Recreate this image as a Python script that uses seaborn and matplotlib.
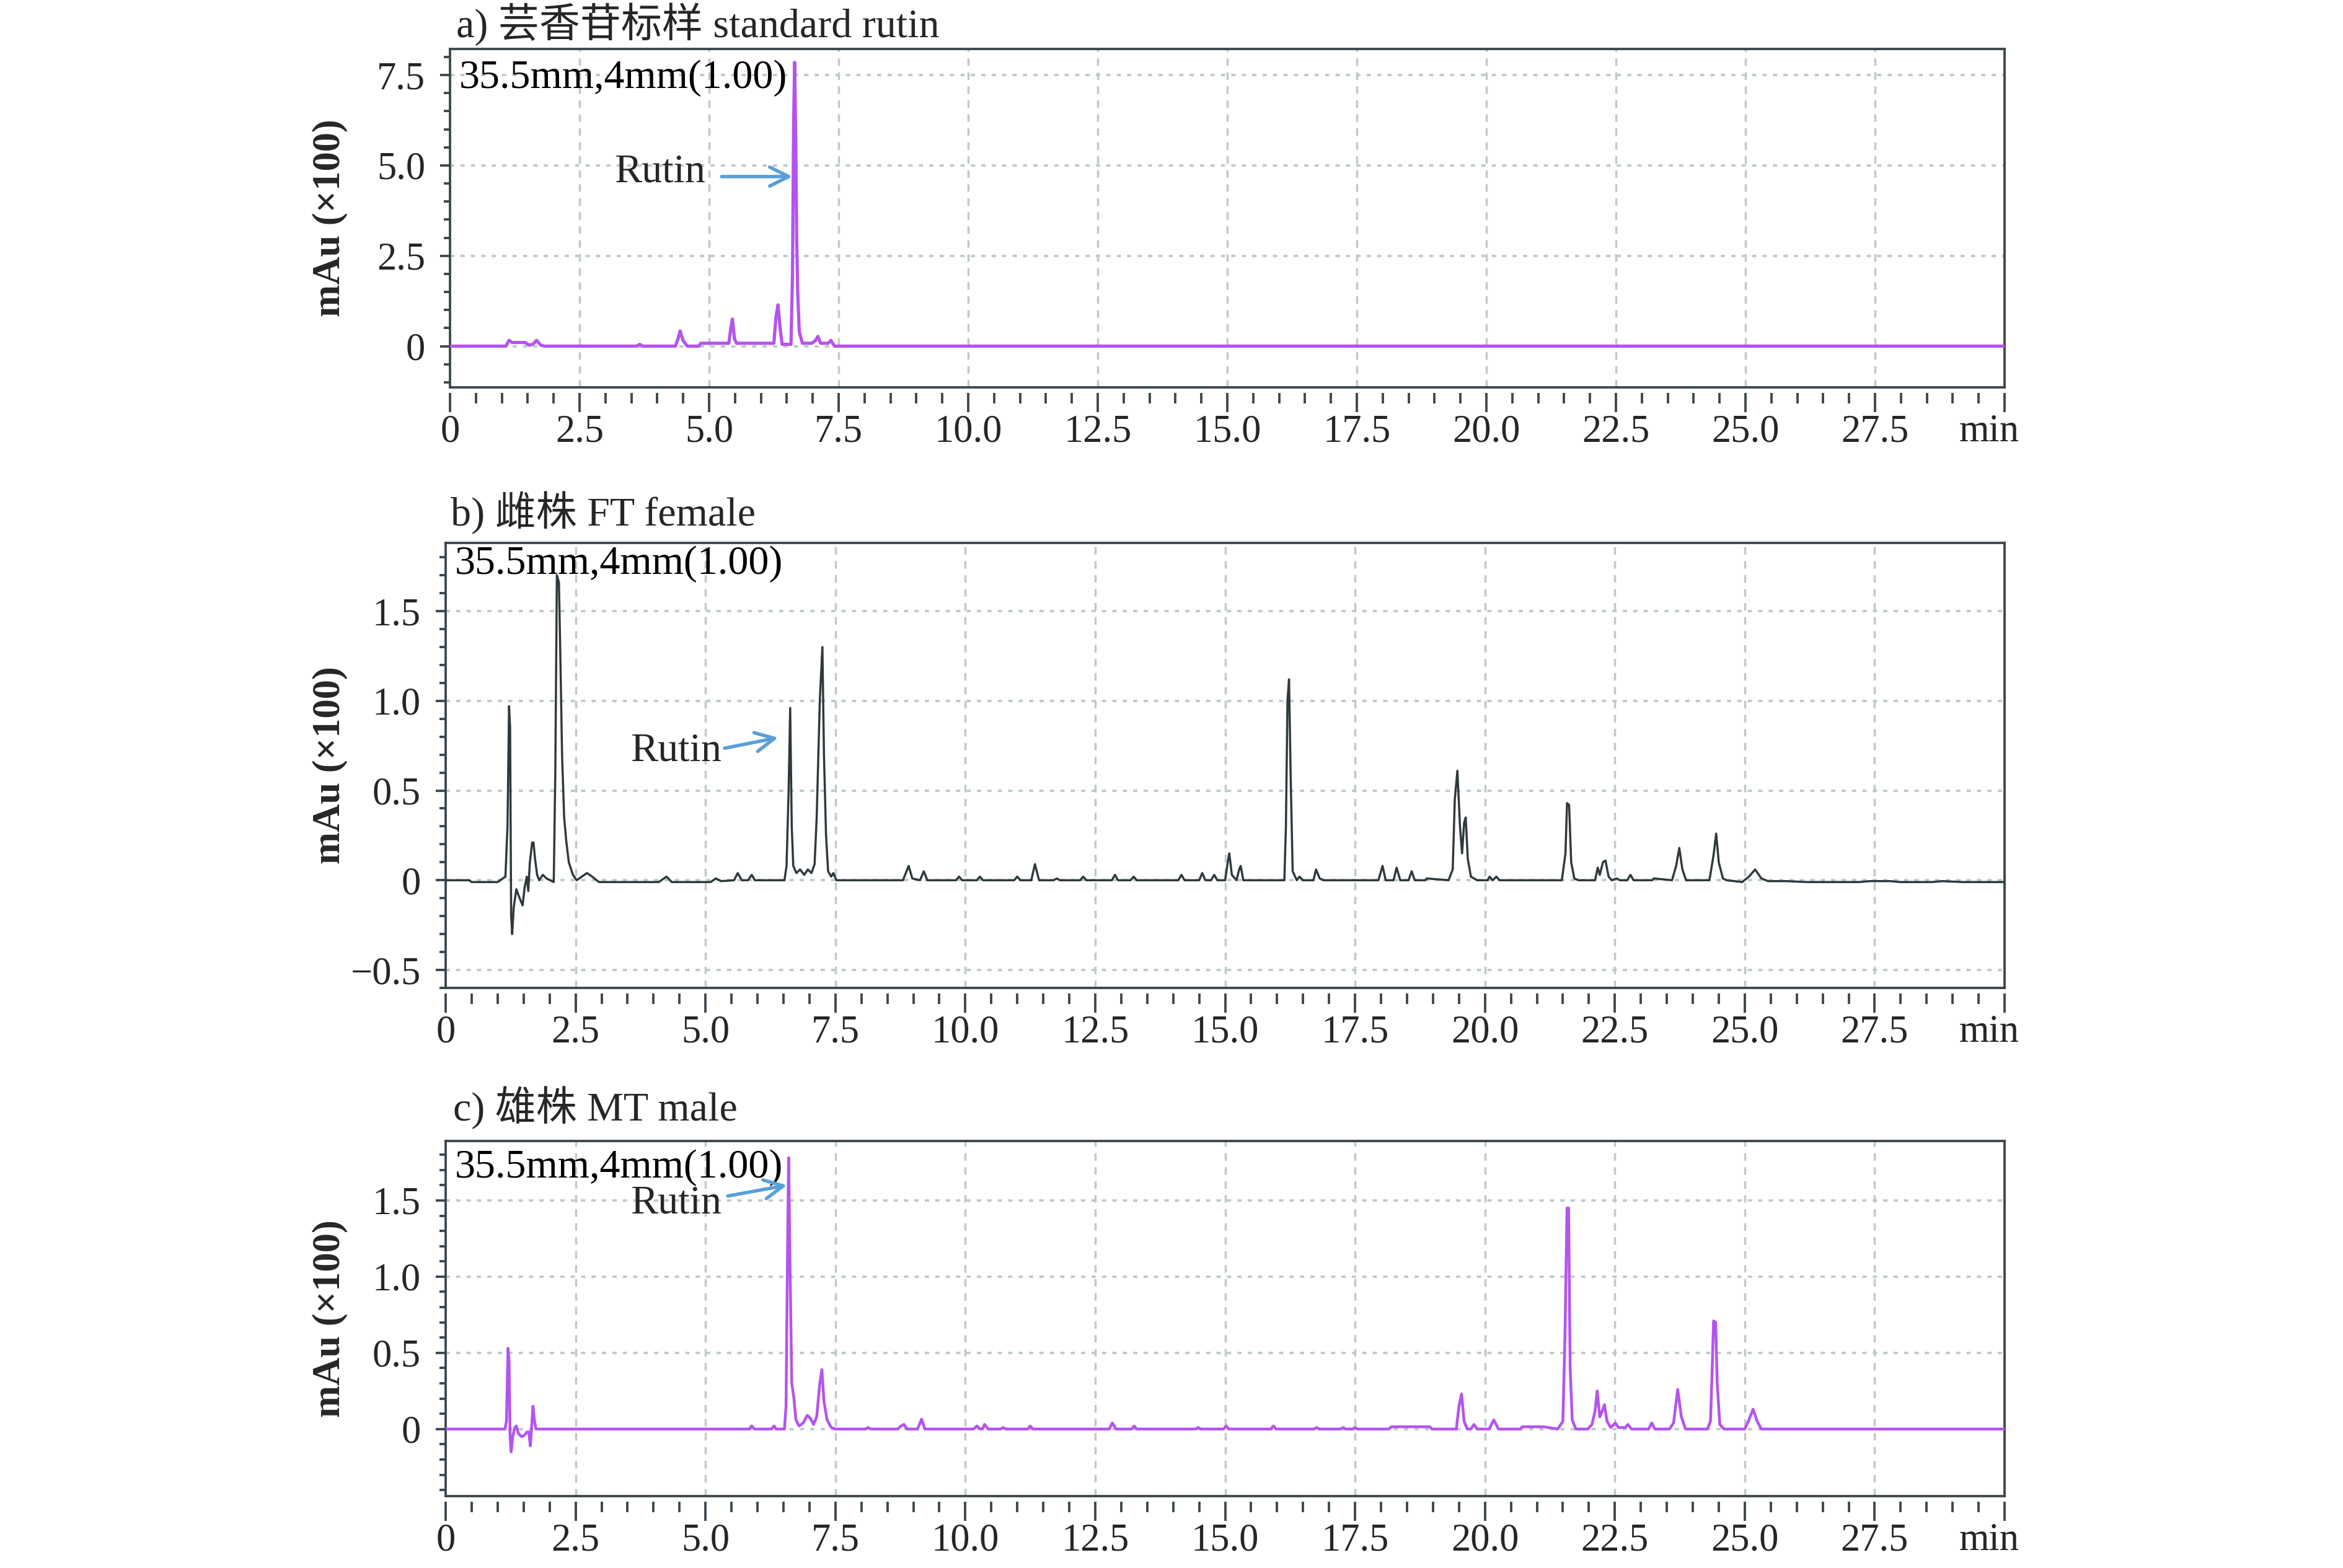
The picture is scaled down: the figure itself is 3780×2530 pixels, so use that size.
import matplotlib
matplotlib.use("Agg")
import matplotlib.pyplot as plt
import matplotlib.transforms as mtransforms
import seaborn as sns
import pandas as pd
from matplotlib.ticker import FixedLocator, FixedFormatter, MultipleLocator

# ---- data (time in min, signal in mAu x100) ----
time_a = [0.0, 1.08, 1.14, 1.20, 1.45, 1.52, 1.60, 1.67, 1.75, 1.82, 3.60, 3.66, 3.72,
          4.35, 4.40, 4.44, 4.50, 4.58, 4.80, 4.84, 5.38, 5.42, 5.45, 5.49, 5.53,
          6.25, 6.29, 6.33, 6.37, 6.41, 6.58, 6.61, 6.63, 6.65, 6.67, 6.69, 6.71, 6.74,
          6.80, 6.98, 7.05, 7.10, 7.15, 7.30, 7.35, 7.42, 30.0]
signal_a = [0.0, 0.0, 0.16, 0.10, 0.10, 0.03, 0.05, 0.16, 0.03, 0.0, 0.0, 0.05, 0.0,
            0.0, 0.2, 0.42, 0.15, 0.0, 0.0, 0.08, 0.08, 0.5, 0.75, 0.2, 0.08,
            0.08, 0.8, 1.14, 0.5, 0.05, 0.05, 2.0, 6.0, 7.85, 5.9, 3.0, 1.5, 0.4,
            0.08, 0.08, 0.15, 0.27, 0.08, 0.08, 0.16, 0.0, 0.0]

time_b = [0.0, 0.45, 0.5, 1.0, 1.15, 1.19, 1.22, 1.24, 1.26, 1.28, 1.31, 1.36, 1.41, 1.48,
          1.52, 1.56, 1.59, 1.62, 1.665, 1.69, 1.72, 1.76, 1.80, 1.87, 1.94, 2.08, 2.11,
          2.14, 2.18, 2.21, 2.24, 2.28, 2.32, 2.37, 2.45, 2.52, 2.62, 2.72, 2.82, 2.95,
          3.5, 4.1, 4.25, 4.35, 5.1, 5.2, 5.3, 5.55, 5.62, 5.70, 5.82, 5.89, 5.95,
          6.52, 6.56, 6.60, 6.63, 6.66, 6.69, 6.75, 6.82, 6.90, 6.97, 7.04, 7.10, 7.14,
          7.20, 7.25, 7.28, 7.32, 7.36, 7.42, 7.46, 7.52,
          8.8, 8.91, 8.98, 9.13, 9.20, 9.27, 9.82, 9.88, 9.94, 10.22, 10.28, 10.34,
          10.94, 11.0, 11.06, 11.27, 11.34, 11.42, 11.70, 11.76, 11.82, 12.21, 12.27,
          12.33, 12.82, 12.88, 12.94, 13.18, 13.24, 13.30, 14.10, 14.16, 14.22, 14.50,
          14.56, 14.62, 14.73, 14.79, 14.85, 15.0, 15.05, 15.08, 15.13, 15.22, 15.27,
          15.30, 15.35, 16.14, 16.17, 16.20, 16.23, 16.26, 16.30, 16.38, 16.43, 16.50,
          16.70, 16.75, 16.82, 16.90, 17.95, 18.03, 18.09, 18.24, 18.30, 18.37, 18.53,
          18.59, 18.65, 18.85, 18.88, 19.30, 19.38, 19.42, 19.47, 19.52, 19.56, 19.60,
          19.63, 19.67, 19.73, 19.85, 20.05, 20.09, 20.15, 20.22, 20.28, 21.48, 21.55,
          21.58, 21.62, 21.66, 21.72, 21.80, 22.12, 22.17, 22.21, 22.27, 22.32, 22.38,
          22.44, 22.53, 22.60, 22.74, 22.80, 22.86, 23.22, 23.25, 23.60, 23.68, 23.74,
          23.80, 23.87, 24.32, 24.40, 24.45, 24.50, 24.58, 24.65, 24.95, 25.08, 25.20,
          25.32, 25.45, 25.8, 26.2, 27.2, 27.4, 27.8, 28.0, 28.6, 28.8, 29.2, 30.0]
signal_b = [0.0, 0.0, -0.01, -0.01, 0.02, 0.3, 0.97, 0.85, -0.2, -0.30, -0.15, -0.05, -0.09,
            -0.14, -0.04, 0.02, -0.06, 0.10, 0.21, 0.21, 0.12, 0.03, 0.0, 0.03, 0.01, -0.01,
            0.6, 1.70, 1.66, 1.2, 0.7, 0.35, 0.22, 0.10, 0.03, 0.0, 0.02, 0.04, 0.02, -0.01,
            -0.01, -0.01, 0.02, -0.01, -0.01, 0.01, -0.005, 0.0, 0.04, 0.0, 0.0, 0.03, 0.0,
            0.0, 0.08, 0.5, 0.96, 0.3, 0.08, 0.04, 0.06, 0.03, 0.06, 0.04, 0.09, 0.35,
            1.0, 1.30, 0.7, 0.25, 0.05, 0.02, 0.04, 0.0,
            0.0, 0.08, 0.01, 0.0, 0.05, 0.0, 0.0, 0.02, 0.0, 0.0, 0.02, 0.0,
            0.0, 0.02, 0.0, 0.0, 0.09, 0.0, 0.0, 0.01, 0.0, 0.0, 0.02,
            0.0, 0.0, 0.03, 0.0, 0.0, 0.02, 0.0, 0.0, 0.03, 0.0, 0.0,
            0.04, 0.0, 0.0, 0.03, 0.0, 0.0, 0.10, 0.15, 0.03, 0.0, 0.06,
            0.08, 0.0, 0.0, 0.3, 1.0, 1.12, 0.6, 0.05, 0.0, 0.02, 0.0,
            0.0, 0.06, 0.01, 0.0, 0.0, 0.08, 0.0, 0.0, 0.07, 0.0, 0.0,
            0.05, 0.0, 0.0, 0.01, 0.0, 0.06, 0.45, 0.61, 0.30, 0.15, 0.32,
            0.35, 0.12, 0.02, 0.0, 0.0, 0.02, 0.0, 0.02, 0.0, 0.0, 0.15,
            0.43, 0.42, 0.1, 0.01, 0.0, 0.0, 0.07, 0.03, 0.10, 0.11, 0.02,
            0.0, 0.01, 0.0, 0.0, 0.03, 0.0, 0.0, 0.01, 0.0, 0.08, 0.18,
            0.06, 0.0, 0.0, 0.14, 0.26, 0.10, 0.01, 0.0, -0.01, 0.02, 0.06,
            0.01, -0.005, -0.005, -0.01, -0.01, -0.005, -0.005, -0.01, -0.01, -0.005, -0.01, -0.01]

time_c = [0.0, 1.14, 1.17, 1.20, 1.22, 1.24, 1.26, 1.29, 1.33, 1.36, 1.40, 1.46, 1.52,
          1.56, 1.60, 1.63, 1.66, 1.68, 1.71, 1.74, 5.84, 5.89, 5.94, 6.27, 6.32, 6.36,
          6.52, 6.55, 6.58, 6.60, 6.63, 6.66, 6.70, 6.74, 6.80, 6.88, 6.96, 7.02, 7.08,
          7.14, 7.20, 7.24, 7.28, 7.34, 7.42, 7.50, 8.08, 8.13, 8.18, 8.70, 8.76, 8.82,
          8.88, 9.08, 9.16, 9.22, 10.16, 10.22, 10.29, 10.33, 10.37, 10.44, 10.68, 10.73,
          10.78, 11.20, 11.25, 11.30, 12.77, 12.83, 12.90, 13.20, 13.25, 13.30, 14.43,
          14.48, 14.53, 14.97, 15.02, 15.07, 15.88, 15.93, 15.98, 16.71, 16.76, 16.81,
          17.22, 17.27, 17.32, 17.45, 17.50, 17.55, 18.15, 18.20, 18.94, 18.98, 19.45,
          19.50, 19.55, 19.60, 19.66, 19.73, 19.79, 19.85, 20.08, 20.17, 20.26, 20.68,
          20.72, 21.13, 21.40, 21.50, 21.54, 21.58, 21.61, 21.64, 21.68, 21.75, 21.98,
          22.06, 22.12, 22.16, 22.21, 22.26, 22.30, 22.35, 22.42, 22.51, 22.57, 22.70,
          22.75, 22.82, 23.15, 23.21, 23.27, 23.55, 23.63, 23.71, 23.78, 23.86, 24.28,
          24.34, 24.37, 24.40, 24.44, 24.47, 24.52, 24.60, 25.0, 25.08, 25.16, 25.24,
          25.32, 30.0]
signal_c = [0.0, 0.0, 0.05, 0.53, 0.45, -0.05, -0.15, -0.05, 0.01, 0.02, -0.03, -0.05, -0.04,
            -0.02, -0.02, -0.11, 0.05, 0.15, 0.05, 0.0, 0.0, 0.02, 0.0, 0.0, 0.02, 0.0,
            0.0, 0.15, 1.2, 1.78, 1.0, 0.3, 0.21, 0.06, 0.02, 0.04, 0.09, 0.07, 0.03,
            0.08, 0.30, 0.39, 0.18, 0.06, 0.01, 0.0, 0.0, 0.01, 0.0, 0.0, 0.02, 0.03,
            0.0, 0.0, 0.065, 0.0, 0.0, 0.02, 0.0, 0.0, 0.03, 0.0, 0.0, 0.01,
            0.0, 0.0, 0.02, 0.0, 0.0, 0.04, 0.0, 0.0, 0.02, 0.0, 0.0,
            0.01, 0.0, 0.0, 0.02, 0.0, 0.0, 0.02, 0.0, 0.0, 0.01, 0.0,
            0.0, 0.01, 0.0, 0.0, 0.01, 0.0, 0.0, 0.015, 0.015, 0.0, 0.0,
            0.15, 0.23, 0.05, 0.0, 0.0, 0.03, 0.0, 0.0, 0.06, 0.0, 0.0,
            0.015, 0.015, 0.0, 0.05, 0.6, 1.45, 1.45, 0.4, 0.06, 0.0, 0.0,
            0.03, 0.12, 0.25, 0.08, 0.12, 0.16, 0.05, 0.01, 0.04, 0.01, 0.01,
            0.03, 0.0, 0.0, 0.04, 0.0, 0.0, 0.04, 0.26, 0.08, 0.0, 0.0,
            0.05, 0.35, 0.71, 0.70, 0.30, 0.03, 0.0, 0.0, 0.06, 0.13, 0.05,
            0.0, 0.0]

panel_titles = ["a) 芸香苷标样 standard rutin", "b) 雌株 FT female", "c) 雄株 MT male"]
method_note = "35.5mm,4mm(1.00)"
peak_name = "Rutin"
y_label = "mAu (×100)"

x_tick_pos = [0, 2.5, 5.0, 7.5, 10.0, 12.5, 15.0, 17.5, 20.0, 22.5, 25.0, 27.5, 30.0]
x_tick_labels = ["0", "2.5", "5.0", "7.5", "10.0", "12.5", "15.0", "17.5", "20.0",
                 "22.5", "25.0", "27.5", "min"]

y_ticks_a = [0, 2.5, 5.0, 7.5]
y_labels_a = ["0", "2.5", "5.0", "7.5"]
y_ticks_b = [-0.5, 0, 0.5, 1.0, 1.5]
y_labels_b = ["\u22120.5", "0", "0.5", "1.0", "1.5"]
y_ticks_c = [0, 0.5, 1.0, 1.5]
y_labels_c = ["0", "0.5", "1.0", "1.5"]

# Rutin arrows: (text right x, text baseline y, arrow tail, arrow head)
rutin_a = (4.93, 4.55, (5.24, 4.69), (6.61, 4.69))
rutin_b = (5.31, 0.666, (5.37, 0.736), (6.40, 0.795))
rutin_c = (5.31, 1.417, (5.43, 1.529), (6.57, 1.600))

# ---- style ----
sns.set_theme(style="white")
plt.rcParams["font.family"] = ["Liberation Serif", "Noto Sans CJK SC"]
plt.rcParams["axes.unicode_minus"] = True

FRAME = "#3c474c"
GRID = "#bfcaca"
MAGENTA = "#b454ee"
DARK = "#2f393d"
ARROW = "#5a9fd8"

W, H = 3780, 2530
fig = plt.figure(figsize=(W / 250, H / 250), dpi=250)

# axes boxes in pixel coords: left, top, right, bottom
boxes = [(726, 79, 3234, 625), (719, 876, 3234, 1594), (719, 1841, 3234, 2414)]
ylims = [(-1.14, 8.22), (-0.6, 1.88), (-0.44, 1.89)]
yticks = [(y_ticks_a, y_labels_a, 0.5), (y_ticks_b, y_labels_b, 0.1), (y_ticks_c, y_labels_c, 0.1)]
traces = [(time_a, signal_a, MAGENTA, 1.5), (time_b, signal_b, DARK, 1.0),
          (time_c, signal_c, MAGENTA, 1.3)]
rutins = [rutin_a, rutin_b, rutin_c]
title_pos = [(736, 60), (727, 848), (731, 1808)]
note_y = [0.885, 0.930, 0.897]

for i in range(3):
    l, t, r, b = boxes[i]
    ax = fig.add_axes([l / W, 1 - b / H, (r - l) / W, (b - t) / H])
    tx, ty, col, lw = traces[i]
    df = pd.DataFrame({"time": tx, "signal": ty})
    sns.lineplot(data=df, x="time", y="signal", ax=ax, color=col, lw=lw,
                 estimator=None, sort=False, zorder=3)

    ax.set_xlim(0, 30)
    ax.set_ylim(*ylims[i])

    # grid
    for gx in x_tick_pos[1:-1]:
        ax.axvline(gx, color=GRID, lw=1.0, ls=(0, (3.5, 3.0)), zorder=1)
    for gy in yticks[i][0]:
        ax.axhline(gy, color=GRID, lw=1.1, ls=(0, (1.8, 2.6)), zorder=1)

    # frame; the x ticks hang a little below the box
    for s in ax.spines.values():
        s.set_color(FRAME)
        s.set_linewidth(1.1)
    ax.spines["bottom"].set_position(("outward", 2.5))
    ax.spines["bottom"].set_visible(False)
    ax.plot([0, 1], [0, 0], transform=ax.transAxes, color=FRAME, lw=1.1,
            clip_on=False, zorder=5)

    # x ticks
    ax.xaxis.set_major_locator(FixedLocator(x_tick_pos))
    ax.xaxis.set_major_formatter(FixedFormatter(x_tick_labels))
    ax.xaxis.set_minor_locator(MultipleLocator(0.5))
    ax.tick_params(axis="x", which="major", direction="out", length=9, width=1.1,
                   color=FRAME, pad=1, labelsize=18, bottom=True)
    ax.tick_params(axis="x", which="minor", direction="out", length=5, width=1.1,
                   color=FRAME, bottom=True)

    # y ticks
    ax.yaxis.set_major_locator(FixedLocator(yticks[i][0]))
    ax.yaxis.set_major_formatter(FixedFormatter(yticks[i][1]))
    ax.yaxis.set_minor_locator(MultipleLocator(yticks[i][2]))
    ax.tick_params(axis="y", which="major", direction="out", length=4.5, width=1.1,
                   color=FRAME, pad=7, labelsize=18, left=True)
    ax.tick_params(axis="y", which="minor", direction="out", length=3, width=1.1,
                   color=FRAME, left=True)

    ax.set_xlabel("")
    ax.set_ylabel(y_label, fontsize=18, fontweight="bold")
    ax.yaxis.set_label_coords((561 - l) / (r - l), 0.5)

    ax.text(0.006, note_y[i], method_note, transform=ax.transAxes, fontsize=19,
            va="baseline", ha="left", color="black", zorder=6)

    txr, tyb, tail, head = rutins[i]
    ax.text(txr, tyb, peak_name, fontsize=19, ha="right", va="baseline", zorder=6)
    ax.annotate("", xy=head, xytext=tail,
                arrowprops=dict(arrowstyle="->", color=ARROW, lw=1.6,
                                mutation_scale=22, shrinkA=0, shrinkB=0), zorder=6)

    # "min" sits slightly left of the last tick
    last = ax.xaxis.get_major_ticks()[-1].label1
    last.set_transform(last.get_transform() +
                       mtransforms.ScaledTranslation(-7 / 72, 0, fig.dpi_scale_trans))

    px, py = title_pos[i]
    fig.text(px / W, 1 - py / H, panel_titles[i], fontsize=19, ha="left", va="baseline")

fig.savefig("out.png", dpi=250, facecolor="white")
